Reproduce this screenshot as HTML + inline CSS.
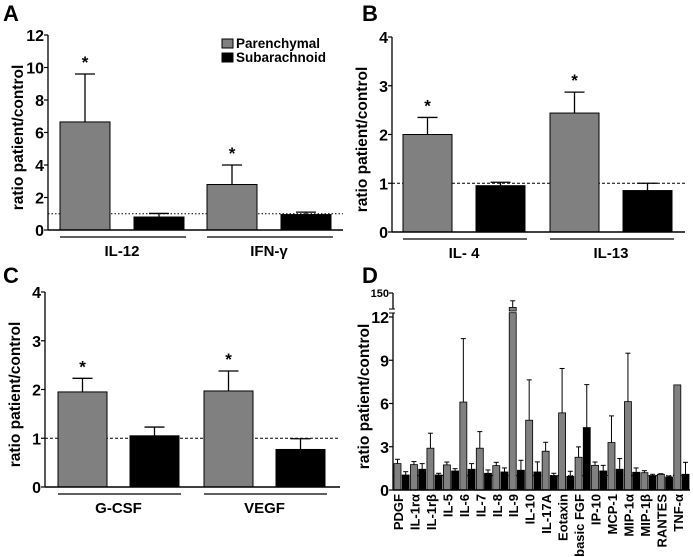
<!DOCTYPE html>
<html><head><meta charset="utf-8"><style>
html,body{margin:0;padding:0;background:#fff}
svg{display:block;font-family:"Liberation Sans",Arial,sans-serif;font-weight:bold}
</style></head><body>
<svg id="fig" width="693" height="557" viewBox="0 0 693 557" xmlns="http://www.w3.org/2000/svg"></svg>
<script>
// Panel A data
const aGroups = ["IL-12", "IFN-\u03b3"];
const aPar = [6.65, 2.8];
const aParErr = [9.6, 4.0];
const aSub = [0.8, 0.95];
const aSubErr = [1.02, 1.1];
const aTicks = [0, 2, 4, 6, 8, 10, 12];
// Panel B data
const bGroups = ["IL- 4", "IL-13"];
const bPar = [2.0, 2.44];
const bParErr = [2.35, 2.87];
const bSub = [0.95, 0.85];
const bSubErr = [1.02, 1.0];
const bTicks = [0, 1, 2, 3, 4];
// Panel C data
const cGroups = ["G-CSF", "VEGF"];
const cPar = [1.95, 1.97];
const cParErr = [2.23, 2.38];
const cSub = [1.05, 0.77];
const cSubErr = [1.23, 0.99];
const cTicks = [0, 1, 2, 3, 4];
// Panel D data
const dCats = ["PDGF","IL-1r\u03b1","IL-1r\u03b2","IL-5","IL-6","IL-7","IL-8","IL-9","IL-10","IL-17A","Eotaxin","basic FGF","IP-10","MCP-1","MIP-1\u03b1","MIP-1\u03b2","RANTES","TNF-\u03b1"];
const dPar = [1.83,1.76,2.9,1.74,6.1,2.9,1.69,126,4.84,2.69,5.35,2.27,1.71,3.29,6.13,1.2,1.09,7.29];
const dParErr = [2.13,1.97,3.94,1.94,10.5,4.05,1.92,137,7.64,3.31,8.43,2.99,1.94,5.14,9.49,1.34,1.13,7.29];
const dSub = [1.04,1.44,1.04,1.32,1.44,1.16,1.25,1.37,1.25,1.0,0.95,4.33,1.32,1.44,1.23,1.0,0.9,1.09];
const dSubErr = [1.27,1.83,1.16,1.48,1.83,1.39,1.53,2.06,1.95,1.16,1.3,7.31,1.71,2.18,1.53,1.09,0.97,1.92];
const dTicks = [0, 3, 6, 9, 12];
const dTopTicks = [150];

const NS = "http://www.w3.org/2000/svg";
const svg = document.getElementById("fig");
function mk(tag, attrs, parent) {
  const e = document.createElementNS(NS, tag);
  for (const k in attrs) e.setAttribute(k, attrs[k]);
  (parent || svg).appendChild(e);
  return e;
}
function txt(s, attrs, parent) { const t = mk("text", attrs, parent); t.textContent = s; return t; }

function panel(cfg) {
  const g = mk("g", {});
  
  
  const y = v => cfg.y0 - (v / cfg.max) * (cfg.y0 - cfg.yTop);
  const ax = mk("line", {x1: cfg.ax, y1: cfg.yTop, x2: cfg.ax, y2: cfg.y0, stroke: "#000", "stroke-width": 1.3}, g);
  
  
  cfg.ticks.forEach(t => {
    mk("line", {x1: cfg.ax - 4, y1: y(t), x2: cfg.ax, y2: y(t), stroke: "#000", "stroke-width": 1.2}, g);
    const tl = txt(String(t), {x: cfg.ax - 4, y: y(t) + 6, "text-anchor": "end", "font-size": 16}, g);
    
    
  });
  const yt = txt("ratio patient/control", {x: 0, y: 0, "text-anchor": "middle", "font-size": 15.5, transform: `translate(${cfg.ax - 25},${(cfg.yTop + cfg.y0) / 2 + 5}) rotate(-90)`}, g);
  
  
  const ref = mk("line", {x1: cfg.ax, y1: y(1), x2: cfg.xEnd, y2: y(1), stroke: "#000", "stroke-width": 1, "stroke-dasharray": cfg.dash}, g);
  
  
  cfg.groups.forEach((name, i) => {
    const gx = cfg.g0 + i * cfg.gStep;
    [[cfg.par[i], cfg.parErr[i], "#808080", 0, "parenchymal"], [cfg.sub[i], cfg.subErr[i], "#000", cfg.bStep, "subarachnoid"]].forEach(([v, e, col, off, nm]) => {
      const x = gx + off, cx = x + cfg.bw / 2;
      const el = mk("line", {x1: cx, y1: y(v), x2: cx, y2: y(e), stroke: "#000", "stroke-width": 1.3}, g);
      
      
      mk("line", {x1: cx - 10, y1: y(e), x2: cx + 10, y2: y(e), stroke: "#000", "stroke-width": 1.3}, g);
      const r = mk("rect", {x: x, y: y(v), width: cfg.bw, height: cfg.y0 - y(v), fill: col, stroke: "#000", "stroke-width": 1}, g);
      
      
    });
    const st = txt("*", {x: gx + cfg.bw / 2, y: y(cfg.parErr[i]) - 6, "text-anchor": "middle", "font-size": 17}, g);
    
    
    const ul = mk("line", {x1: gx, y1: cfg.y0 + 7, x2: gx + cfg.bStep + cfg.bw + 2, y2: cfg.y0 + 7, stroke: "#000", "stroke-width": 1.3}, g);
    
    
    const gl = txt(name, {x: gx + (cfg.bStep + cfg.bw) / 2, y: cfg.y0 + 26, "text-anchor": "middle", "font-size": 15}, g);
    
    
  });
  const xa = mk("line", {x1: cfg.ax, y1: cfg.y0, x2: cfg.xEnd, y2: cfg.y0, stroke: "#000", "stroke-width": 1.5}, g);
  
  
  return g;
}

panel({name: "panel-a", ax: 48, xEnd: 343, y0: 230, yTop: 35, max: 12, ticks: aTicks, groups: aGroups, par: aPar, parErr: aParErr, sub: aSub, subErr: aSubErr, g0: 60, gStep: 147, bStep: 74, bw: 50, dash: "1.5,2"});
panel({name: "panel-b", ax: 392, xEnd: 685, y0: 232, yTop: 37, max: 4, ticks: bTicks, groups: bGroups, par: bPar, parErr: bParErr, sub: bSub, subErr: bSubErr, g0: 403, gStep: 147, bStep: 73, bw: 49, dash: "3,2"});
panel({name: "panel-c", ax: 45, xEnd: 340, y0: 487, yTop: 292, max: 4, ticks: cTicks, groups: cGroups, par: cPar, parErr: cParErr, sub: cSub, subErr: cSubErr, g0: 58, gStep: 146, bStep: 72, bw: 49, dash: "3,2"});

const lg = mk("g", {});


const l1 = mk("rect", {x: 222, y: 39, width: 11, height: 9, fill: "#808080", stroke: "#000", "stroke-width": 1}, lg);


const l1t = txt("Parenchymal", {x: 236, y: 48, "font-size": 13.5}, lg);


const l2 = mk("rect", {x: 222, y: 53, width: 11, height: 9, fill: "#000", stroke: "#000", "stroke-width": 1}, lg);


const l2t = txt("Subarachnoid", {x: 236, y: 62, "font-size": 13.5}, lg);



(function () {
  const g = mk("g", {});
  
  
  const ax = 393, y0 = 490, y12 = 317, breakLo = 313, breakHi = 311, yTop = 293;
  const upMin = 120, upMax = 150;
  const y = v => v <= 12.3 ? y0 - v * (y0 - y12) / 12 : breakHi - (Math.min(v, upMax) - upMin) / (upMax - upMin) * (breakHi - yTop);
  const a1 = mk("line", {x1: ax, y1: y0, x2: ax, y2: breakLo, stroke: "#000", "stroke-width": 1.3}, g);
  
  
  const a2 = mk("line", {x1: ax, y1: breakHi - 2, x2: ax, y2: yTop, stroke: "#000", "stroke-width": 1.3}, g);
  
  
  mk("line", {x1: ax - 4, y1: breakLo, x2: ax + 2, y2: breakLo, stroke: "#000", "stroke-width": 1}, g);
  mk("line", {x1: ax - 4, y1: breakHi - 2, x2: ax + 2, y2: breakHi - 2, stroke: "#000", "stroke-width": 1}, g);
  dTicks.concat(dTopTicks).forEach(t => {
    mk("line", {x1: ax - 4, y1: y(t), x2: ax, y2: y(t), stroke: "#000", "stroke-width": 1.2}, g);
    const tl = txt(String(t), {x: ax - 4, y: y(t) + (t > 12 ? 4 : 6), "text-anchor": "end", "font-size": t > 12 ? 11 : 16}, g);
    
    
  });
  const yt = txt("ratio patient/control", {x: 0, y: 0, "text-anchor": "middle", "font-size": 15.5, transform: `translate(369,${(yTop + y0) / 2 + 5}) rotate(-90)`}, g);
  
  
  const ref = mk("line", {x1: ax, y1: y(1), x2: 690, y2: y(1), stroke: "#000", "stroke-width": 1, "stroke-dasharray": "1.5,2"}, g);
  
  
  const bw = 7, step = 16.46, x0 = 394;
  dCats.forEach((name, i) => {
    const gx = x0 + i * step;
    [[dPar[i], dParErr[i], "#808080", 0, "parenchymal"], [dSub[i], dSubErr[i], "#000", 8.2, "subarachnoid"]].forEach(([v, e, col, off, nm]) => {
      const x = gx + off, cx = x + bw / 2;
      if (e > v) {
        const el = mk("line", {x1: cx, y1: y(v), x2: cx, y2: y(e), stroke: "#000", "stroke-width": 1}, g);
        
        
        mk("line", {x1: cx - 2.5, y1: y(e), x2: cx + 2.5, y2: y(e), stroke: "#000", "stroke-width": 1}, g);
      }
      let r;
      if (v > 12.3) {
        r = mk("rect", {x: x, y: y(12.3), width: bw, height: y0 - y(12.3), fill: col, stroke: "#000", "stroke-width": 0.8}, g);
        mk("rect", {x: x, y: y(v), width: bw, height: Math.max(breakHi - y(v), 1), fill: col, stroke: "#000", "stroke-width": 0.8}, g);
      } else {
        r = mk("rect", {x: x, y: y(v), width: bw, height: y0 - y(v), fill: col, stroke: "#000", "stroke-width": 0.8}, g);
      }
      
      
    });
    const lab = txt(name, {x: 0, y: 0, "text-anchor": "end", "font-size": 13, transform: `translate(${gx + 9},${y0 + 4}) rotate(-90)`}, g);
    
    
  });
  const xa = mk("line", {x1: ax, y1: y0, x2: 690, y2: y0, stroke: "#000", "stroke-width": 1.5}, g);
  
  
})();

[["A", 3, 21], ["B", 362, 21], ["C", 3, 283], ["D", 362, 283]].forEach(([s, x, yy]) => {
  const t = txt(s, {x: x, y: yy, "font-size": 22});
  
  
});
</script>
</body></html>
